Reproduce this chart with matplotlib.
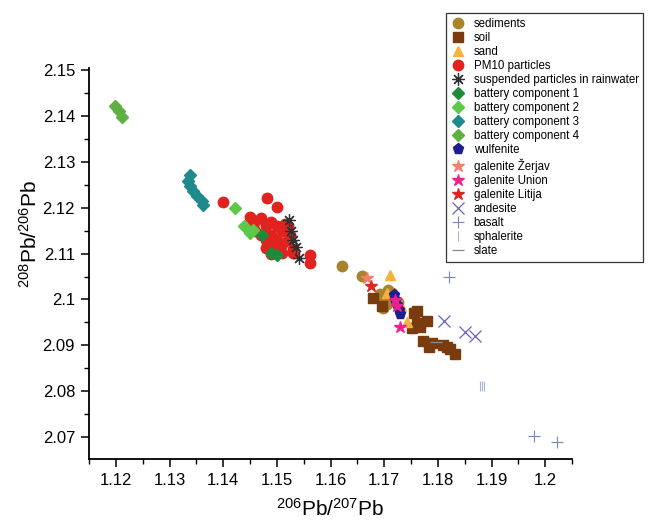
import numpy as np
import matplotlib
matplotlib.use('Agg')
import matplotlib.pyplot as plt
from matplotlib.ticker import MultipleLocator, FormatStrFormatter

plt.rcParams['font.family'] = ['Liberation Sans', 'DejaVu Sans']
plt.rcParams['mathtext.default'] = 'regular'

# 206Pb/207Pb (x) and 208Pb/206Pb (y)
sed_x = [1.1621, 1.1658, 1.1693, 1.1700, 1.1705, 1.1712, 1.1698, 1.1715, 1.1725, 1.1708]
sed_y = [2.1073, 2.1052, 2.1012, 2.1000, 2.0990, 2.1005, 2.0982, 2.1015, 2.0995, 2.1020]

soil_x = [1.1680, 1.1696, 1.1755, 1.1761, 1.1780, 1.1751, 1.1767, 1.1773, 1.1783, 1.1789,
          1.1810, 1.1817, 1.1823, 1.1832, 1.1761]
soil_y = [2.1003, 2.0985, 2.0970, 2.0948, 2.0952, 2.0937, 2.0941, 2.0910, 2.0896, 2.0905,
          2.0901, 2.0897, 2.0893, 2.0881, 2.0974]

sand_x = [1.1711, 1.1705, 1.1722, 1.1732, 1.1742]
sand_y = [2.1054, 2.1015, 2.1000, 2.0985, 2.0950]

pm_x = [1.1400, 1.1481, 1.1501, 1.1450, 1.1460, 1.1470, 1.1480, 1.1490, 1.1500, 1.1510,
        1.1460, 1.1470, 1.1480, 1.1490, 1.1500, 1.1510, 1.1520, 1.1480, 1.1490, 1.1500,
        1.1510, 1.1530, 1.1531, 1.1562, 1.1562, 1.1455, 1.1520, 1.1525, 1.1495, 1.1515]
pm_y = [2.1212, 2.1221, 2.1201, 2.1180, 2.1172, 2.1178, 2.1160, 2.1170, 2.1160, 2.1150,
        2.1150, 2.1140, 2.1130, 2.1140, 2.1130, 2.1120, 2.1130, 2.1112, 2.1100, 2.1112,
        2.1102, 2.1110, 2.1101, 2.1097, 2.1079, 2.1162, 2.1160, 2.1140, 2.1120, 2.1165]

rain_x = [1.1522, 1.1527, 1.1531, 1.1535, 1.1542]
rain_y = [2.1174, 2.1150, 2.1130, 2.1115, 2.1090]

bat1_x = [1.1472, 1.1490, 1.1500]
bat1_y = [2.1141, 2.1101, 2.1098]
bat2_x = [1.1422, 1.1439, 1.1450, 1.1455]
bat2_y = [2.1199, 2.1160, 2.1145, 2.1152]
bat3_x = [1.1338, 1.1335, 1.1338, 1.1344, 1.1351, 1.1360, 1.1363]
bat3_y = [2.1272, 2.1258, 2.1247, 2.1236, 2.1225, 2.1214, 2.1206]
bat4_x = [1.1198, 1.1205, 1.1212]
bat4_y = [2.1423, 2.1412, 2.1398]

wulf_x = [1.1719, 1.1721, 1.1724, 1.1727, 1.1730]
wulf_y = [2.1010, 2.0998, 2.0988, 2.0976, 2.0968]

zerjav_x = [1.1668]
zerjav_y = [2.1047]
union_x = [1.1721, 1.1723, 1.1730]
union_y = [2.0999, 2.0985, 2.0941]
litija_x = [1.1675]
litija_y = [2.1030]

andes_x = [1.1811, 1.1851, 1.1870]
andes_y = [2.0952, 2.0930, 2.0920]
basalt_x = [1.1820, 1.1979, 1.2022]
basalt_y = [2.1050, 2.0702, 2.0690]
sphal_x = [1.1879, 1.1883, 1.1886]
sphal_y = [2.0811, 2.0811, 2.0811]
slate_x = [1.1797]
slate_y = [2.0907]

series = [
    ('sediments', sed_x, sed_y, dict(marker='o', color='#A8842C', ms=7.5)),
    ('soil', soil_x, soil_y, dict(marker='s', color='#7A3C0E', ms=6.5)),
    ('sand', sand_x, sand_y, dict(marker='^', color='#F6B23A', ms=7.5)),
    ('PM10 particles', pm_x, pm_y, dict(marker='o', color='#E2221E', ms=7.5)),
    ('suspended particles in rainwater', rain_x, rain_y,
     dict(marker=(8, 2, 0), color='#303030', ms=9, mew=0.9)),
    ('battery component 1', bat1_x, bat1_y, dict(marker='D', color='#1E8B3A', ms=6)),
    ('battery component 2', bat2_x, bat2_y, dict(marker='D', color='#5DC84A', ms=6)),
    ('battery component 3', bat3_x, bat3_y, dict(marker='D', color='#1F8A8C', ms=6)),
    ('battery component 4', bat4_x, bat4_y, dict(marker='D', color='#5EB043', ms=6)),
    ('wulfenite', wulf_x, wulf_y, dict(marker='p', color='#1E1E8E', ms=8)),
    ('galenite Žerjav', zerjav_x, zerjav_y, dict(marker='*', color='#F2806E', ms=9)),
    ('galenite Union', union_x, union_y, dict(marker='*', color='#F0208E', ms=9)),
    ('galenite Litija', litija_x, litija_y, dict(marker='*', color='#E02222', ms=9)),
    ('andesite', andes_x, andes_y, dict(marker='x', color='#6A63B5', ms=8, mew=0.9)),
    ('basalt', basalt_x, basalt_y, dict(marker='+', color='#7A86B8', ms=8, mew=0.8)),
    ('sphalerite', sphal_x, sphal_y, dict(marker='|', color='#A9B2D8', ms=7, mew=0.8)),
    ('slate', slate_x, slate_y, dict(marker='_', color='#8A8A8A', ms=8, mew=0.9)),
]

fig = plt.figure(figsize=(6.49, 5.21), dpi=100)
ax = fig.add_axes([89/649, 1 - 459/521, 483/649, 391/521])

for name, xs, ys, st in series:
    ax.plot(xs, ys, linestyle='none', label=name, **st)

ax.set_xlim(1.115, 1.205)
ax.set_ylim(2.0652, 2.1505)
ax.xaxis.set_major_locator(MultipleLocator(0.01))
ax.xaxis.set_minor_locator(MultipleLocator(0.005))
ax.yaxis.set_major_locator(MultipleLocator(0.01))
ax.yaxis.set_minor_locator(MultipleLocator(0.005))
ax.xaxis.set_major_formatter(FormatStrFormatter('%g'))
ax.yaxis.set_major_formatter(FormatStrFormatter('%g'))

for s in ['top', 'right']:
    ax.spines[s].set_visible(False)
for s in ['left', 'bottom']:
    ax.spines[s].set_linewidth(1.3)
ax.tick_params(which='major', length=6, width=1.1, labelsize=12, direction='out', pad=4)
ax.tick_params(which='minor', length=3.5, width=1.0, direction='out')

ax.set_xlabel(r'$^{206}$Pb/$^{207}$Pb', fontsize=15)
ax.set_ylabel(r'$^{208}$Pb/$^{206}$Pb', fontsize=15)
ax.xaxis.set_label_coords(0.5, -0.1)
ax.yaxis.set_label_coords(-0.099, 0.575)

leg = fig.legend(loc='upper left', bbox_to_anchor=(446/649, 1 - 13/521),
                 fontsize=8.3, frameon=True, fancybox=False, framealpha=1,
                 edgecolor='#333333', labelspacing=0.18, handlelength=1.2,
                 handletextpad=0.8, borderpad=0.4, borderaxespad=0)
leg.get_frame().set_linewidth(0.9)

fig.savefig('out.png', dpi=100)
